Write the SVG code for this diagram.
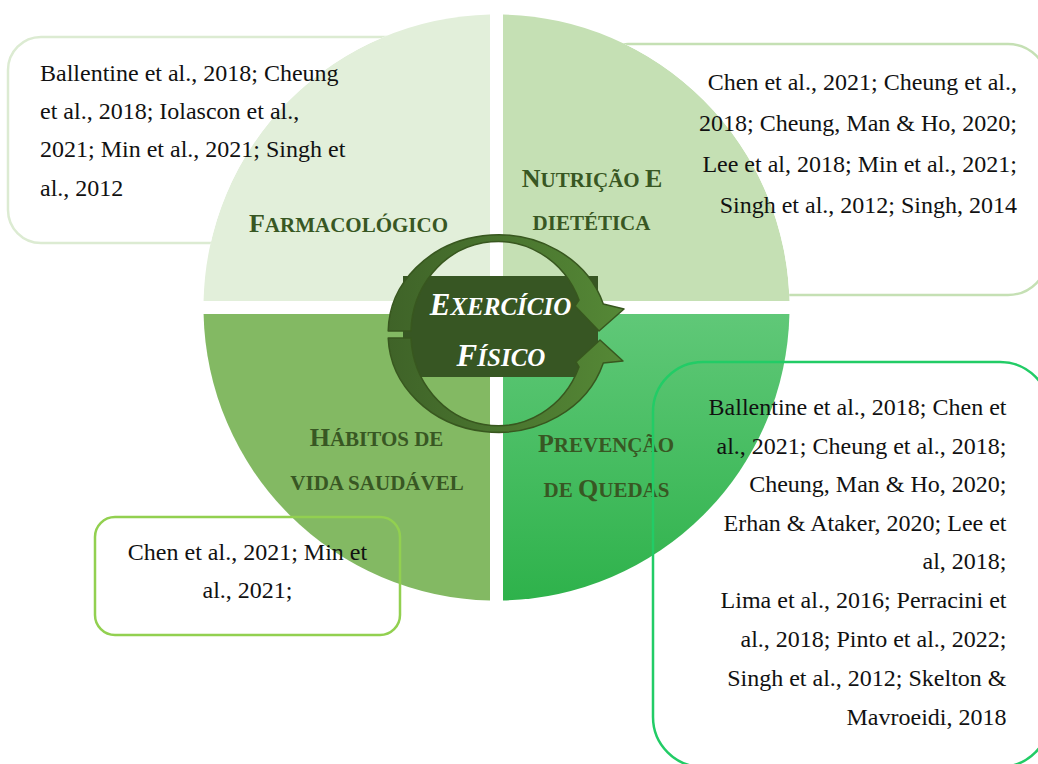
<svg xmlns="http://www.w3.org/2000/svg" width="1038" height="764" viewBox="0 0 1038 764">
<defs>
<style>
.cite{font-family:"Liberation Serif","Times New Roman",serif;font-size:24px;fill:#111111;}
.lbl{font-family:"Liberation Serif","Times New Roman",serif;font-weight:bold;fill:#385723;font-size:21px;}
.cap{font-size:26px;}
.box{stroke-width:2.5;}
.ctr{font-family:"Liberation Serif","Times New Roman",serif;font-weight:bold;font-style:italic;fill:#ffffff;font-size:25px;}
.ctr .cap{font-size:31px;}
.arrow{fill:url(#arr);stroke:#38571f;stroke-width:1.5;stroke-linejoin:round;}
</style>
<linearGradient id="brg" x1="0" y1="0" x2="0" y2="1">
<stop offset="0" stop-color="#60c878"/>
<stop offset="1" stop-color="#2eb24b"/>
</linearGradient>
<linearGradient id="arr" x1="0" y1="0" x2="1" y2="0">
<stop offset="0" stop-color="#3f6328"/>
<stop offset="1" stop-color="#558836"/>
</linearGradient>
<clipPath id="outside">
<path clip-rule="evenodd" d="M0,0H1038V764H0Z M203.5,307.5 a293,293 0 1,0 586,0 a293,293 0 1,0 -586,0Z"/>
</clipPath>
</defs>
<rect width="1038" height="764" fill="#ffffff"/>

<g id="circle">
<path id="q-tl" d="M490,14.57 L490,301 L203.57,301 A293,293 0 0 1 490,14.57 Z" fill="#e2efda"/>
<path id="q-tr" d="M503,14.57 A293,293 0 0 1 789.43,301 L503,301 Z" fill="#c5e0b4"/>
<path id="q-br" d="M503,314 L789.43,314 A293,293 0 0 1 503,600.43 Z" fill="url(#brg)"/>
<path id="q-bl" d="M490,314 L490,600.43 A293,293 0 0 1 203.57,314 Z" fill="#83b963"/>
</g>

<g id="box-farmacologico">
<rect class="box" x="8" y="37" width="452" height="206" rx="33" fill="#ffffff" stroke="#dcebd2" clip-path="url(#outside)"/>
<text class="cite" x="40" y="81">Ballentine et al., 2018; Cheung</text>
<text class="cite" x="40" y="119">et al., 2018; Iolascon et al.,</text>
<text class="cite" x="40" y="157">2021; Min et al., 2021; Singh et</text>
<text class="cite" x="40" y="196">al., 2012</text>
</g>

<g id="box-nutricao">
<rect class="box" x="588" y="44" width="460" height="251" rx="40" fill="#ffffff" stroke="#c5e0b4" clip-path="url(#outside)"/>
<text class="cite" x="1017" y="90" text-anchor="end">Chen et al., 2021; Cheung et al.,</text>
<text class="cite" x="1017" y="131" text-anchor="end">2018; Cheung, Man &amp; Ho, 2020;</text>
<text class="cite" x="1017" y="172" text-anchor="end">Lee et al, 2018; Min et al., 2021;</text>
<text class="cite" x="1017" y="213" text-anchor="end">Singh et al., 2012; Singh, 2014</text>
</g>

<g id="label-farmacologico">
<text class="lbl" x="348.5" y="232" text-anchor="middle"><tspan class="cap">F</tspan>ARMACOLÓGICO</text>
</g>
<g id="label-nutricao">
<text class="lbl" x="592" y="187" text-anchor="middle"><tspan class="cap">N</tspan>UTRIÇÃO <tspan class="cap">E</tspan></text>
<text class="lbl" x="591.5" y="230" text-anchor="middle">DIETÉTICA</text>
</g>
<g id="label-habitos">
<text class="lbl" x="376.5" y="446" text-anchor="middle"><tspan class="cap">H</tspan>ÁBITOS DE</text>
<text class="lbl" x="377" y="490" text-anchor="middle">VIDA SAUDÁVEL</text>
</g>
<g id="label-prevencao">
<text class="lbl" x="606" y="452" text-anchor="middle"><tspan class="cap">P</tspan>REVENÇÃO</text>
<text class="lbl" x="606.5" y="497" text-anchor="middle">DE <tspan class="cap">Q</tspan>UEDAS</text>
</g>

<g id="center-exercicio">
<rect x="403" y="276" width="195" height="101" fill="#375623"/>
<path class="arrow" d="M388.2,331 A110,98 0 0 1 603.3,304 L624,309 L599,331 L575,306 L579,300 A87,92 0 0 0 411,331 Z"/>
<path class="arrow" d="M388.2,338 A110,98 0 0 0 603.3,363 L623,361 L600,340 L576,362 L579,367 A87,92 0 0 1 411,338 Z"/>
<text class="ctr" x="500.5" y="315" text-anchor="middle"><tspan class="cap">E</tspan>XERCÍCIO</text>
<text class="ctr" x="501" y="366" text-anchor="middle"><tspan class="cap">F</tspan>ÍSICO</text>
</g>

<g id="box-habitos">
<rect class="box" x="95" y="517" width="305" height="118" rx="20" fill="none" stroke="#92d050"/>
<text class="cite" x="247.5" y="560" text-anchor="middle">Chen et al., 2021; Min et</text>
<text class="cite" x="247.5" y="598" text-anchor="middle">al., 2021;</text>
</g>

<g id="box-prevencao">
<rect class="box" x="653" y="362" width="397" height="405" rx="50" fill="none" stroke="#22cc66"/>
<text class="cite" x="1006.5" y="415" text-anchor="end">Ballentine et al., 2018; Chen et</text>
<text class="cite" x="1006.5" y="454" text-anchor="end">al., 2021; Cheung et al., 2018;</text>
<text class="cite" x="1006.5" y="492" text-anchor="end">Cheung, Man &amp; Ho, 2020;</text>
<text class="cite" x="1006.5" y="531" text-anchor="end">Erhan &amp; Ataker, 2020; Lee et</text>
<text class="cite" x="1006.5" y="569" text-anchor="end">al, 2018;</text>
<text class="cite" x="1006.5" y="608" text-anchor="end">Lima et al., 2016; Perracini et</text>
<text class="cite" x="1006.5" y="647" text-anchor="end">al., 2018; Pinto et al., 2022;</text>
<text class="cite" x="1006.5" y="686" text-anchor="end">Singh et al., 2012; Skelton &amp;</text>
<text class="cite" x="1006.5" y="725" text-anchor="end">Mavroeidi, 2018</text>
</g>
</svg>
